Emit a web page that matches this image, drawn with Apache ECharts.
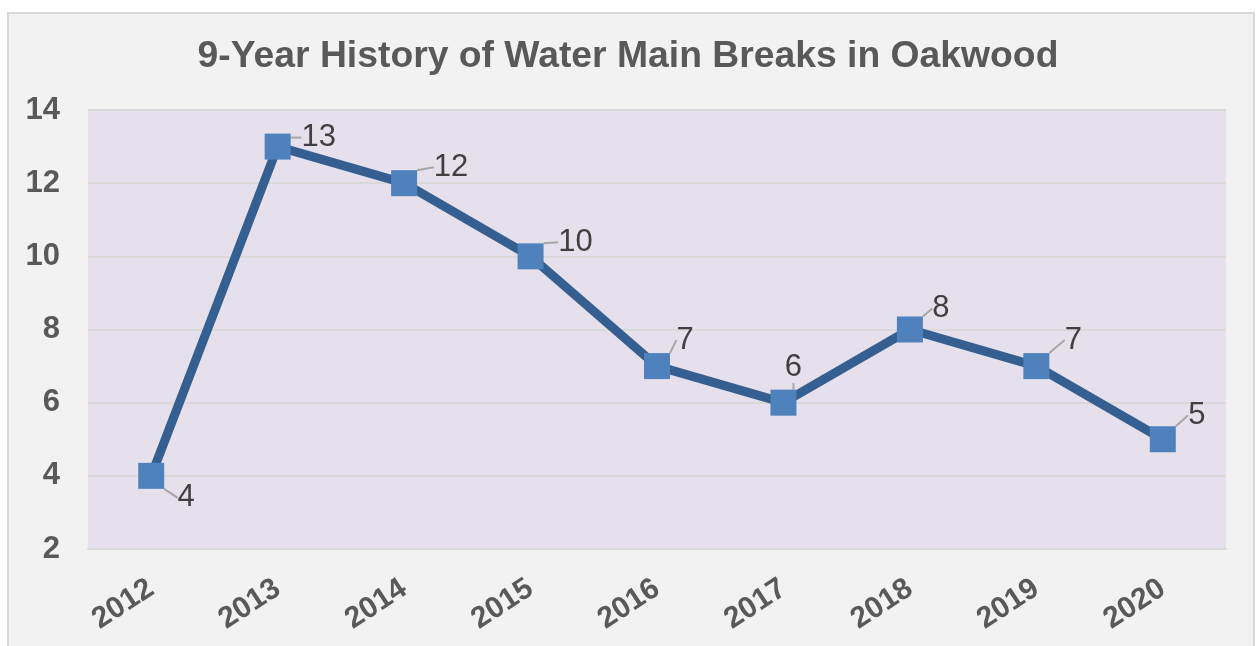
<!DOCTYPE html>
<html><head><meta charset="utf-8">
<script src="https://cdn.jsdelivr.net/npm/echarts@6/dist/echarts.min.js"></script>
<style>
html,body{margin:0;padding:0;background:#fff;width:1256px;height:646px;overflow:hidden;}
#box{position:absolute;left:7px;top:12px;width:1244px;height:640px;background:#f2f2f2;border:2px solid #d9d9d9;}
#c{position:absolute;left:0;top:0;width:1256px;height:646px;}
</style></head>
<body><div id="box"></div><div id="c"></div>
<script>
const titleText = '9-Year History of Water Main Breaks in Oakwood';
const years = ['2012','2013','2014','2015','2016','2017','2018','2019','2020'];
const breaks = [4, 13, 12, 10, 7, 6, 8, 7, 5];
const yTicks = {min: 2, max: 14, interval: 2};

// label displacement (style only), relative to marker centre
const labelShift = [[35,22],[41,-9],[47,-16],[45,-14],[28,-26],[10,-35],[31,-21],[37,-26],[34,-24]];

const chart = echarts.init(document.getElementById('c'), null, {renderer:'canvas'});
const FONT = '"Liberation Sans", Arial, sans-serif';
chart.setOption({
  backgroundColor: 'transparent',
  animation: false,
  title: {
    text: titleText, left: 'center', top: 33,
    textStyle: {fontFamily: FONT, fontWeight: 'bold', fontSize: 37.3, color: '#595959'}
  },
  grid: {left: 88, right: 30, top: 110, bottom: 97, show: true, backgroundColor: '#e6e0ec', borderWidth: 0},
  xAxis: {
    type: 'category', data: years, boundaryGap: true,
    axisLine: {show: true, lineStyle: {color: '#d9d9d9', width: 2}},
    axisTick: {show: false},
    axisLabel: {rotate: 33, margin: 37, fontFamily: FONT, fontWeight: 'bold', fontSize: 30, color: '#595959'}
  },
  yAxis: {
    type: 'value', min: yTicks.min, max: yTicks.max, interval: yTicks.interval,
    axisLine: {show: false}, axisTick: {show: false},
    splitLine: {lineStyle: {color: '#d9d9d9', width: 2}},
    axisLabel: {margin: 28, fontFamily: FONT, fontWeight: 'bold', fontSize: 31, color: '#595959'}
  },
  series: [{
    type: 'line', data: breaks,
    symbol: 'rect', symbolSize: 26,
    itemStyle: {color: '#4f81bd'},
    lineStyle: {color: '#355f91', width: 9},
    label: {show: true, position: 'inside', fontFamily: FONT, fontSize: 31, color: '#404040'},
    labelLine: {show: true, lineStyle: {color: '#a6a6a6', width: 2}},
    labelLayout: function (p) {
      const s = labelShift[p.dataIndex];
      return {dx: s[0], dy: s[1]};
    }
  }]
});
</script></body></html>
